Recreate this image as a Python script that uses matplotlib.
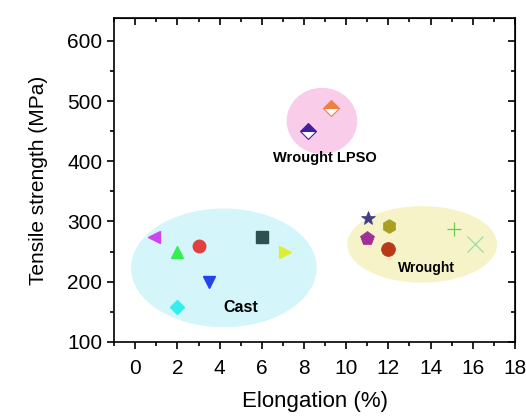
import matplotlib
matplotlib.use("Agg")
import matplotlib.pyplot as plt
from matplotlib.patches import Ellipse
from matplotlib.ticker import MultipleLocator

plt.rcParams["font.family"] = ["Liberation Sans", "DejaVu Sans"]

# Cast alloys: (elongation %, tensile strength MPa)
cast_x = [0.9, 2.0, 3.0, 6.0, 7.1, 3.5, 2.0]
cast_y = [275, 250, 260, 275, 250, 200, 158]
cast_markers = ["<", "^", "o", "s", ">", "v", "D"]
cast_colors = ["#CC44EE", "#33EE55", "#E04040", "#2F5050", "#DDEE33", "#2244EE", "#33EEEE"]

# Wrought LPSO alloys
lpso_x = [9.3, 8.2]
lpso_y = [488, 450]
lpso_colors = ["#F08040", "#4020A0"]

# Wrought alloys
wrought_x = [11.05, 12.05, 11.0, 12.0, 15.1, 16.1]
wrought_y = [305, 293, 273, 255, 288, 262]
wrought_markers = ["*", "h", "p", "o", "+", "x"]
wrought_colors = ["#404080", "#A8A020", "#A03098", "#B83818", "#66CC55", "#99DDAA"]

# group regions: center x, center y, width, height, colour, label, label pos, label size
regions = [
    (4.2, 223, 8.8, 197, "#D4F5FA", "Cast", (5.0, 157), 11.5),
    (8.85, 467, 3.35, 110, "#F9CDEA", "Wrought LPSO", (9.0, 406), 10.5),
    (13.6, 262, 7.1, 127, "#F6F3C8", "Wrought", (13.8, 222), 10),
]

fig = plt.figure(figsize=(5.26, 4.18), dpi=100)
ax = fig.add_axes([0.217, 0.182, 0.762, 0.775])

for cx, cy, w, h, col, name, (tx, ty), fs in regions:
    ax.add_patch(Ellipse((cx, cy), w, h, facecolor=col, edgecolor="none", zorder=1))
    ax.text(tx, ty, name, fontsize=fs, fontweight="bold", ha="center", va="center", zorder=3)

for x, y, m, c in zip(cast_x, cast_y, cast_markers, cast_colors):
    ax.plot(x, y, marker=m, color=c, markersize=9 if m != "D" else 7, linestyle="none", zorder=2)

for x, y, c in zip(lpso_x, lpso_y, lpso_colors):
    ax.plot(x, y, marker="D", color=c, markerfacecoloralt="white", fillstyle="top",
            markeredgecolor=c, markeredgewidth=0.8, markersize=8, linestyle="none", zorder=2)

for x, y, m, c in zip(wrought_x, wrought_y, wrought_markers, wrought_colors):
    if m in "+x":
        ax.plot(x, y, marker=m, color=c, markersize=10 if m == "+" else 12,
                markeredgewidth=0.9, linestyle="none", zorder=2)
    else:
        ax.plot(x, y, marker=m, color=c, markersize=10, markeredgewidth=0.5,
                linestyle="none", zorder=2)

ax.set_xlim(-1, 18)
ax.set_ylim(100, 638)
ax.xaxis.set_major_locator(MultipleLocator(2))
ax.xaxis.set_minor_locator(MultipleLocator(1))
ax.yaxis.set_minor_locator(MultipleLocator(50))
ax.set_yticks([100, 200, 300, 400, 500, 600])

ax.tick_params(which="both", direction="out", top=False, right=False, width=1.2)
ax.tick_params(which="major", length=5, labelsize=15)
ax.tick_params(axis="x", which="major", pad=7)
ax.tick_params(which="minor", length=3)
for sp in ax.spines.values():
    sp.set_linewidth(1.2)

ax2 = ax.secondary_xaxis("top")
ax2.set_xticks(range(0, 19, 2))
ax2.xaxis.set_minor_locator(MultipleLocator(1))
ax2.tick_params(which="both", direction="in", labeltop=False, width=1.2)
ax2.tick_params(which="major", length=5)
ax2.tick_params(which="minor", length=3)
ax3 = ax.secondary_yaxis("right")
ax3.set_yticks([100, 200, 300, 400, 500, 600])
ax3.yaxis.set_minor_locator(MultipleLocator(50))
ax3.tick_params(which="both", direction="in", labelright=False, width=1.2)
ax3.tick_params(which="major", length=5)
ax3.tick_params(which="minor", length=3)

ax.set_xlabel("Elongation (%)", fontsize=16, labelpad=10)
ax.set_ylabel("Tensile strength (MPa)", fontsize=15, labelpad=14)

fig.savefig("out.png", dpi=100)
